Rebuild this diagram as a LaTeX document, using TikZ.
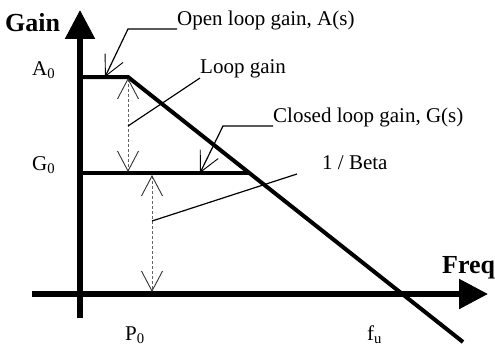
\documentclass[tikz,border=0pt]{standalone}
\usepackage{fontspec}
\setmainfont{Liberation Serif}
\usetikzlibrary{arrows.meta}
\begin{document}
\begin{tikzpicture}[x=1pt,y=-1pt,
  axis/.style={line width=5.5pt,-{Triangle[length=29pt,width=29pt]}},
  curve/.style={line width=4pt},
  leader/.style={line width=1.2pt},
  barbtip/.style={-{Straight Barb[length=20pt,width=20pt,line width=0.9pt]}},
  gap/.style={black!60,line width=1pt,dash pattern=on 3pt off 2pt,
    {Straight Barb[length=20pt,width=21pt,line width=0.9pt,black!80]}-{Straight Barb[length=20pt,width=21pt,line width=0.9pt,black!80]}},
  lbl/.style={inner sep=0pt,anchor=base west,font=\fontsize{21}{25}\selectfont},
  axlbl/.style={inner sep=0pt,anchor=base west,font=\fontsize{26}{30}\selectfont\bfseries}
]
\useasboundingbox (0,0) rectangle (495,345);

% axes
\coordinate (yb) at (80,318);
\coordinate (yt) at (80,10);
\coordinate (xl) at (32,294);
\coordinate (xr) at (488,294);
\draw[axis] (yb) -- (yt);
\draw[axis] (xl) -- (xr);

% curves
\coordinate (a0l) at (80,77);
\coordinate (pole) at (128,77);
\coordinate (cend) at (463,342);
\coordinate (g0l) at (80,173);
\coordinate (g0r) at (249.5,173);
\draw[curve] (a0l) -- (pole) -- (cend);
\draw[curve] (g0l) -- (g0r);

% gap arrows
\coordinate (lgt) at (128,78);
\coordinate (lgb) at (128,172);
\coordinate (btt) at (152,175);
\coordinate (btb) at (152,292);
\draw[gap] (lgt) -- (lgb);
\draw[gap] (btt) -- (btb);

% labels
\node[axlbl] (gain) at (5,32) {Gain};
\node[axlbl] (freq) at (442,273) {Freq};
\node[lbl] (a0) at (32,75) {A\textsubscript{0}};
\node[lbl] (g0) at (32,170) {G\textsubscript{0}};
\node[lbl] (p0) at (125,340) {P\textsubscript{0}};
\node[lbl] (fu) at (367,340) {f\textsubscript{u}};
\node[lbl] (olg) at (177,26) {Open loop gain, A(s)};
\node[lbl] (lg) at (200,74) {Loop gain};
\node[lbl] (clg) at (273,122) {Closed loop gain, G(s)};
\node[lbl] (beta) at (322,169) {1 / Beta};

% leaders
\coordinate (olg1) at (177,29);
\coordinate (olg2) at (128,29);
\coordinate (olgt) at (105,77);
\draw[leader,barbtip] (olg1) -- (olg2) -- (olgt);
\coordinate (lg1) at (200,78);
\coordinate (lg2) at (128,126);
\draw[leader] (lg1) -- (lg2);
\coordinate (clg1) at (273,126);
\coordinate (clg2) at (223,126);
\coordinate (clgt) at (200,173);
\draw[leader,barbtip] (clg1) -- (clg2) -- (clgt);
\coordinate (bt1) at (297,174);
\coordinate (bt2) at (152,221);
\draw[leader] (bt1) -- (bt2);
\end{tikzpicture}
\end{document}
